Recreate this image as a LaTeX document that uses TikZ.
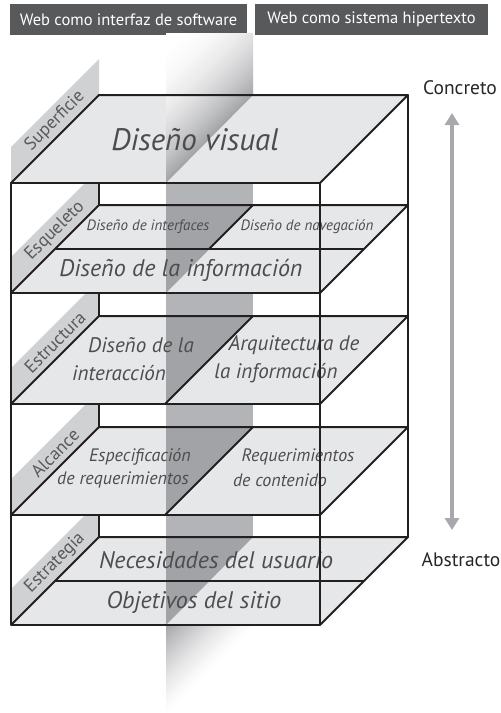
\documentclass[tikz,border=0pt]{standalone}
\usepackage{fontspec}
\setmainfont{PT Sans}
\newfontfamily\planefont{PT Sans}
\usetikzlibrary{arrows.meta}
\definecolor{planefill}{HTML}{E6E7E8}
\definecolor{tabfill}{HTML}{D0D1D3}
\definecolor{bandmid}{HTML}{B3B4B7}
\definecolor{banddark}{HTML}{A2A3A6}
\definecolor{ptext}{HTML}{4D4D4F}
\definecolor{tabtext}{HTML}{58595B}
\definecolor{hdrfill}{HTML}{58595B}
\definecolor{arrgray}{HTML}{A7A9AC}
\definecolor{edge}{HTML}{231F20}
\begin{document}
\begin{tikzpicture}[x=1pt,y=-1pt,
  hdr/.style={fill=hdrfill,text=white,inner sep=0pt,minimum height=31pt,font=\fontsize{16.5}{16.5}\selectfont},
  sidelbl/.style={text=black!85,inner sep=0pt,font=\fontsize{19.5}{19.5}\selectfont},
  tabbox/.style={fill=tabfill},
  tablbl/.style={text=tabtext,inner sep=0pt,rotate=45,font=\fontsize{18}{18}\selectfont},
  planebox/.style={fill=planefill},
  ptxt/.style={text=ptext,inner sep=0pt},
  edgeline/.style={draw=edge,line width=2pt,line join=round},
  arr/.style={draw=arrgray,line width=3.5pt,{Triangle[length=12pt,width=14pt]}-{Triangle[length=12pt,width=14pt]}}
]
\useasboundingbox (0,0) rectangle (501,713);
% headers
\node[hdr,minimum width=237pt] (h1) at (128.5,19.5) {Web como interfaz de software};
\node[hdr,minimum width=233pt] (h2) at (371.5,19.5) {Web como sistema hipertexto};
% concreto / abstracto
\node[sidelbl] (conc) at (460,88) {Concreto};
\node[sidelbl] (abst) at (461,560) {Abstracto};
\coordinate (atop) at (452,113);
\coordinate (abot) at (452,530);
\draw[arr] (atop) -- (abot);
% band middle
\fill[bandmid] (166,183) rectangle (253,625);
% tabs
\foreach \F in {183,293,404,515,625}{
  \fill[tabbox] (11,\F) -- (99,\F-88) -- (99,\F-124) -- (11,\F-36) -- cycle;
}
% planes
\foreach \F in {183,293,404,515,625}{
  \fill[planebox] (11,\F) -- (99,\F-88) -- (408,\F-88) -- (320,\F) -- cycle;
}
\foreach \F in {293,404,515,625}{
  \fill[banddark] (166,\F-88) -- (253,\F-88) -- (166,\F) -- cycle;
}
% band top: fades to white towards upper left
\begin{scope}
  \clip (166,33) -- (253,33) -- (253,95) -- (166,183) -- cycle;
  \foreach \i in {0,...,49}{
    \pgfmathsetmacro\sa{199+3*\i}
    \pgfmathsetmacro\sb{\sa+3.6}
    \pgfmathtruncatemacro\p{100*((\i+0.5)/50)^2.2}
    \fill[banddark!\p!white] (150,\sa-150) -- (270,\sa-270) -- (270,\sb-270) -- (150,\sb-150) -- cycle;
  }
\end{scope}
% band bottom: fades to white towards lower right
\begin{scope}
  \clip (166,625) rectangle (253,713);
  \foreach \i in {0,...,39}{
    \pgfmathsetmacro\sa{791+2.3*\i}
    \pgfmathsetmacro\sb{\sa+2.8}
    \pgfmathtruncatemacro\p{100*(1-(\i+0.5)/40)^1.4}
    \fill[banddark!\p!white] (150,\sa-150) -- (270,\sa-270) -- (270,\sb-270) -- (150,\sb-150) -- cycle;
  }
\end{scope}
% tab labels
\node[tablbl] (t1) at (55,121) {Superficie};
\node[tablbl] (t2) at (55,231) {Esqueleto};
\node[tablbl] (t3) at (55,342) {Estructura};
\node[tablbl] (t4) at (55,453) {Alcance};
\node[tablbl] (t5) at (55,563) {Estrategia};
% plane texts
\node[ptxt,font=\planefont\itshape\fontsize{31}{31}\selectfont] (p1) at (195,140) {Diseño visual};
\node[ptxt,font=\planefont\itshape\fontsize{15}{15}\selectfont] (p2a) at (148,227) {Diseño de interfaces};
\node[ptxt,font=\planefont\itshape\fontsize{15}{15}\selectfont] (p2b) at (307,227) {Diseño de navegación};
\node[ptxt,font=\planefont\itshape\fontsize{24}{24}\selectfont] (p2c) at (181,270) {Diseño de la información};
\node[ptxt,font=\planefont\itshape\fontsize{21}{21}\selectfont] (p3a) at (141,345) {Diseño de la};
\node[ptxt,font=\planefont\itshape\fontsize{21}{21}\selectfont] (p3b) at (119,373) {interacción};
\node[ptxt,font=\planefont\itshape\fontsize{21}{21}\selectfont] (p3c) at (294,345) {Arquitectura de};
\node[ptxt,font=\planefont\itshape\fontsize{21}{21}\selectfont] (p3d) at (276,373) {la información};
\node[ptxt,font=\planefont\itshape\fontsize{18}{18}\selectfont] (p4a) at (140,457) {Especificación};
\node[ptxt,font=\planefont\itshape\fontsize{18}{18}\selectfont] (p4b) at (123,480) {de requerimientos};
\node[ptxt,font=\planefont\itshape\fontsize{18}{18}\selectfont] (p4c) at (298,457) {Requerimientos};
\node[ptxt,font=\planefont\itshape\fontsize{18}{18}\selectfont] (p4d) at (280,480) {de contenido};
\node[ptxt,font=\planefont\itshape\fontsize{24}{24}\selectfont] (p5a) at (216,560) {Necesidades del usuario};
\node[ptxt,font=\planefont\itshape\fontsize{24}{24}\selectfont] (p5b) at (194,602) {Objetivos del sitio};
% edges
\draw[edgeline] (11,183) -- (99,95) -- (408,95) -- (320,183);
\draw[edgeline] (408,95) -- (408,537);
\foreach \F/\P in {293/183,404/293,515/404,625/515}{
  \draw[edgeline] (99,\P) -- (99,\F-88);
  \draw[edgeline] (11,\F) -- (99,\F-88) -- (408,\F-88) -- (320,\F);
  \draw[edgeline] (11,\F) -- (320,\F);
}
\draw[edgeline] (55,249) -- (364,249);
\draw[edgeline] (253,205) -- (209,249);
\draw[edgeline] (253,316) -- (165,404);
\draw[edgeline] (253,427) -- (165,515);
\draw[edgeline] (55,581) -- (364,581);
\draw[edgeline] (11,183) rectangle (320,625);
\end{tikzpicture}
\end{document}
